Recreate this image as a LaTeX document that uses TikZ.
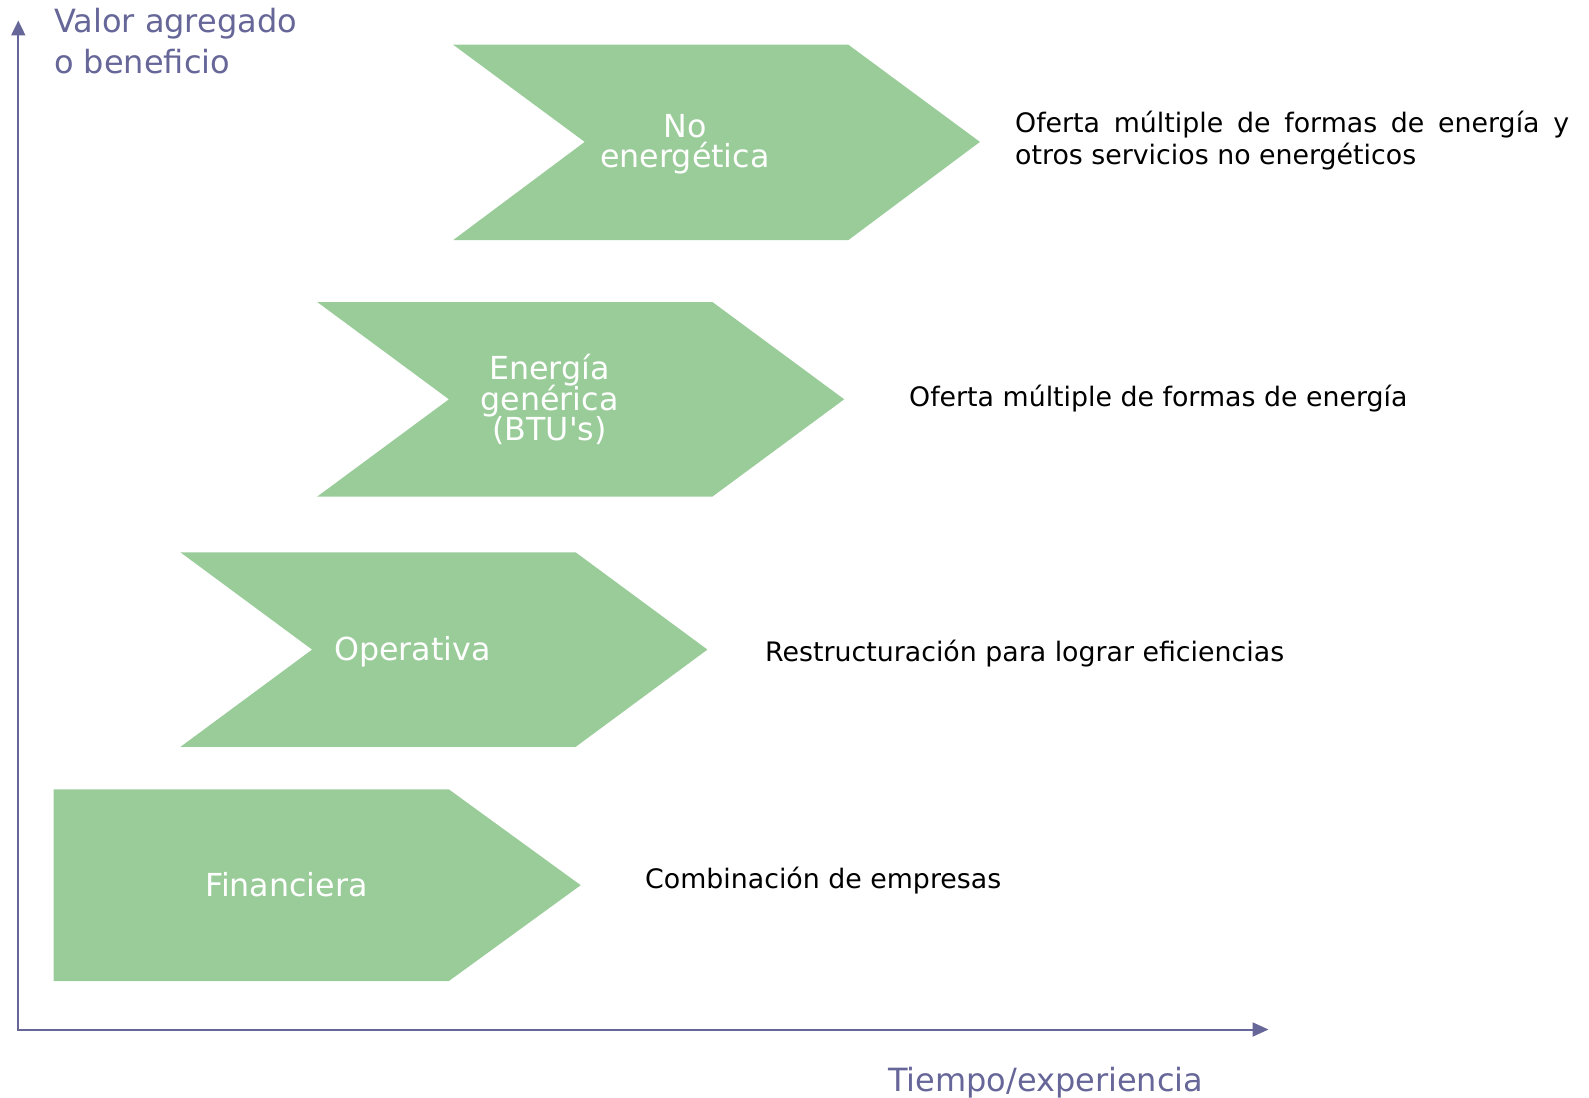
\documentclass[tikz,border=0pt]{standalone}
\usepackage{fontspec}
\setmainfont{DejaVu Sans}
\usetikzlibrary{arrows.meta}
\definecolor{axisblue}{RGB}{102,102,153}
\definecolor{stagegreen}{RGB}{153,204,153}

\begin{document}
\begin{tikzpicture}[x=1pt,y=-1pt,
  axis/.style={draw=axisblue,line width=2pt},
  stage/.style={fill=stagegreen},
  stagelabel/.style={text=white,inner sep=0pt,align=center,font={\fontsize{31.7}{30.2}\selectfont\lineskiplimit=-50pt}},
  desc/.style={text=black,inner sep=0pt,font=\fontsize{26.8}{32.6}\selectfont},
  axislabel/.style={text=axisblue,inner sep=0pt,font=\fontsize{32}{41.7}\selectfont}]
\useasboundingbox (0,0) rectangle (1589,1097);

\coordinate (ytip) at (18.3,20.5);
\coordinate (origin) at (18.3,1029.5);
\coordinate (xtip) at (1268.5,1029.5);
\draw [axis,{Triangle[length=15pt,width=14pt]}-{Triangle[length=16pt,width=14pt]}] (ytip) -- (origin) -- (xtip);

\fill [stage] (453,44.6) -- (848.2,44.6) -- (979.9,141.9) -- (848.2,240.2) -- (453,240.2) -- (584.7,141.9) -- cycle;
\fill [stage] (317.2,302) -- (712.4,302) -- (844.2,399.3) -- (712.4,496.6) -- (317.2,496.6) -- (448.9,399.3) -- cycle;
\fill [stage] (180.4,552.3) -- (575.6,552.3) -- (707.4,649.6) -- (575.6,746.9) -- (180.4,746.9) -- (312.1,649.6) -- cycle;
\fill [stage] (53.5,789.4) -- (448.9,789.4) -- (580.7,885.2) -- (448.9,981) -- (53.5,981) -- cycle;

\node [stagelabel] (noenerg) at (685,144) {No\\energética};
\node [stagelabel] (generica) at (549.5,399.5) {Energía\\genérica\\(BTU\textquotesingle s)};
\node [stagelabel,anchor=base] (operativa) at (412.5,660) {Operativa};
\node [stagelabel,anchor=base] (financiera) at (286.4,896) {Financiera};

\node [desc,text width=554pt,align=justify,anchor=west] (dnoenerg) at (1015,140.5) {Oferta múltiple de formas de energía y otros servicios no energéticos};
\node [desc,anchor=base west] (dgenerica) at (909,406.5) {Oferta múltiple de formas de energía};
\node [desc,anchor=base west] (doperativa) at (765,661.7) {Restructuración para lograr eficiencias};
\node [desc,anchor=base west] (dfinanciera) at (645,888.7) {Combinación de empresas};

\node [axislabel,align=left,anchor=west] (ylabel) at (54,41) {Valor agregado\\o beneficio};
\node [axislabel,anchor=base west] (xlabel) at (887.8,1091) {Tiempo/experiencia};

\end{tikzpicture}
\end{document}
